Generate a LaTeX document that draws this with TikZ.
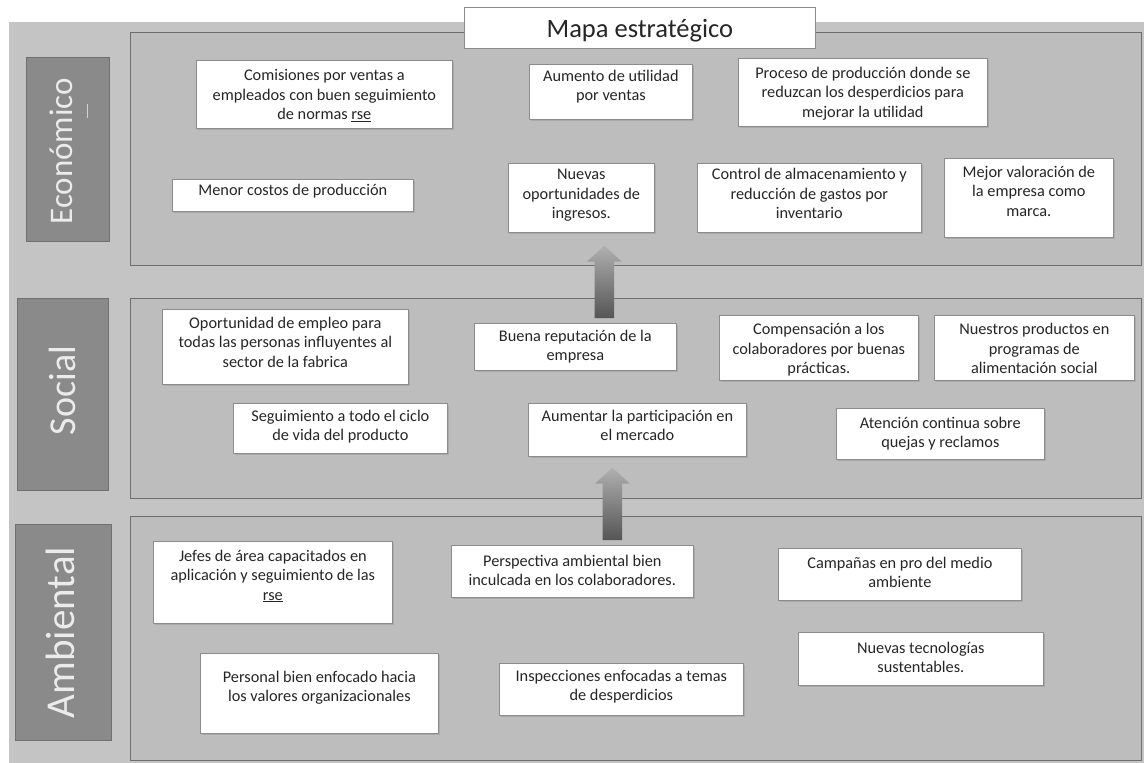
\documentclass[tikz,border=0pt]{standalone}
\usepackage{fontspec}
\setmainfont{Carlito}
\usetikzlibrary{calc,shadows}
\definecolor{bgout}{HTML}{C4C4C4}
\definecolor{bgpanel}{HTML}{BDBDBD}
\definecolor{panelline}{HTML}{6E6E6E}
\definecolor{labfill}{HTML}{8A8A8A}
\definecolor{labline}{HTML}{707070}
\definecolor{boxline}{HTML}{8C8C8C}
\definecolor{txtcol}{HTML}{262626}
\definecolor{arrtop}{HTML}{B0B0B0}
\definecolor{arrbot}{HTML}{555555}
\definecolor{strayc}{HTML}{D2D2D2}
\newcommand\lns[1]{\begin{tabular}[t]{@{}c@{}}#1\end{tabular}}
\tikzset{
  panelbox/.style={draw=panelline, line width=1pt, fill=bgpanel, inner sep=0},
  labbox/.style={draw=labline, line width=0.8pt, fill=labfill, inner sep=0},
  labtext/.style={rotate=90, text=white!92!black, inner sep=0},
  whitebox/.style={draw=boxline, line width=0.7pt, fill=white, inner sep=0,
    drop shadow={shadow xshift=1.2pt, shadow yshift=-1.2pt, opacity=0.3}},
  titlebox/.style={draw=boxline, line width=0.8pt, fill=white, inner sep=0},
  txt/.style={inner sep=0, text=txtcol, font=\fontsize{16.3}{19.5}\selectfont, anchor=base},
}
% name, style, x1, y1, x2, y2
\newcommand\rbox[6]{%
  \node[#2, minimum width={#5-#3}, minimum height={#6-#4}, anchor=north west] (#1) at (#3,#4) {};}
% name, x1, y1, x2, y2, baseline offset, text
\newcommand\bx[7]{%
  \node[whitebox, minimum width={#4-#2}, minimum height={#5-#3}, anchor=north west] (#1) at (#2,#3) {};
  \node[txt] (#1t) at ($(#1.north)+(0,#6)$) {\lns{#7}};}
\newcommand\fatarr[2]{%
  \shade[top color=arrtop, bottom color=arrbot]
    ($(#1)+(-9.75,0)$) -- ($(#2)+(-9.75,16)$) -- ($(#2)+(-17.5,16)$) -- (#2)
    -- ($(#2)+(17.5,16)$) -- ($(#2)+(9.75,16)$) -- ($(#1)+(9.75,0)$) -- cycle;}
\begin{document}
\begin{tikzpicture}[x=1pt,y=-1pt]
\useasboundingbox (0,0) rectangle (1144,763);
\fill[white] (0,0) rectangle (1144,763);
\fill[bgout] (9,22) rectangle (1144,763);

% panels
\rbox{PE}{panelbox}{130}{32}{1141}{265}
\rbox{PS}{panelbox}{130}{298}{1141}{498}
\rbox{PA}{panelbox}{130}{516}{1141}{760}

% side labels
\rbox{LE}{labbox}{26}{57}{109}{241}
\rbox{LS}{labbox}{17}{298}{108}{490}
\rbox{LA}{labbox}{15}{524}{111}{740}
\node[labtext, font=\fontsize{33}{36}\selectfont] (LEt) at ($(LE.center)+(-7,2)$) {Económico};
\node[labtext, font=\fontsize{38}{40}\selectfont] (LSt) at ($(LS.center)+(0,-4)$) {Social};
\node[labtext, font=\fontsize{41}{44}\selectfont] (LAt) at ($(LA.center)+(-3,0)$) {Ambiental};
\draw[strayc, line width=1pt] (87,104) -- (87,118);

% title
\rbox{T}{titlebox}{464}{7}{815}{48}
\node[inner sep=0, anchor=base, text=txtcol, font=\fontsize{26.5}{30}\selectfont] (Tt) at ($(T.north)+(0,30)$) {Mapa estratégico};

% Económico
\bx{E1}{196}{60}{452}{128}{20.5}{Comisiones por ventas a\\ empleados con buen seguimiento\\ de normas \underline{rse}}
\bx{E2}{529}{64}{692}{119}{17}{Aumento de utilidad\\ por ventas}
\bx{E3}{738}{58}{987}{126}{20}{Proceso de producción donde se\\ reduzcan los desperdicios para\\ mejorar la utilidad}
\bx{E4}{172}{179}{413}{211}{16}{Menor costos de producción}
\bx{E5}{508}{163}{654}{232}{16.5}{Nuevas\\ oportunidades de\\ ingresos.}
\bx{E6}{697}{163}{921}{232}{16.5}{Control de almacenamiento y\\ reducción de gastos por\\ inventario}
\bx{E7}{944}{158}{1113}{237}{19}{Mejor valoración de\\ la empresa como\\ marca.}

% Social
\bx{S1}{162}{309}{408}{384}{19}{Oportunidad de empleo para\\ todas las personas influyentes al\\ sector de la fabrica}
\bx{S2}{474}{323}{676}{370}{18}{Buena reputación de la\\ empresa}
\bx{S3}{719}{315}{918}{380}{19.5}{Compensación a los\\ colaboradores por buenas\\ prácticas.}
\bx{S4}{934}{315}{1134}{380}{19.5}{Nuestros productos en\\ programas de\\ alimentación social}
\bx{S5}{233}{403}{447}{453}{18}{Seguimiento a todo el ciclo\\ de vida del producto}
\bx{S6}{528}{403}{746}{456}{18}{Aumentar la participación en\\ el mercado}
\bx{S7}{836}{408}{1044}{459}{20}{Atención continua sobre\\ quejas y reclamos}

% Ambiental
\bx{A1}{153}{541}{392}{623}{20}{Jefes de área capacitados en\\ aplicación y seguimiento de las\\ \underline{rse}}
\bx{A2}{451}{545}{693}{597}{21}{Perspectiva ambiental bien\\ inculcada en los colaboradores.}
\bx{A3}{778}{548}{1021}{600}{20}{Campañas en pro del medio\\ ambiente}
\bx{A4}{200}{653}{438}{733}{29}{Personal bien enfocado hacia\\ los valores organizacionales}
\bx{A5}{499}{663}{743}{715}{18}{Inspecciones enfocadas a temas\\ de desperdicios}
\bx{A6}{798}{632}{1043}{685}{21}{Nuevas tecnologías\\ sustentables.}

% arrows
\coordinate (a1b) at ($(S2.north)+(29,-5)$);
\coordinate (a1t) at ($(E5.south)+(23,13)$);
\coordinate (a2b) at ($(A2.north)+(40,-5)$);
\coordinate (a2t) at ($(S6.south)+(-25,11)$);
\fatarr{a1b}{a1t}
\fatarr{a2b}{a2t}
\end{tikzpicture}
\end{document}
